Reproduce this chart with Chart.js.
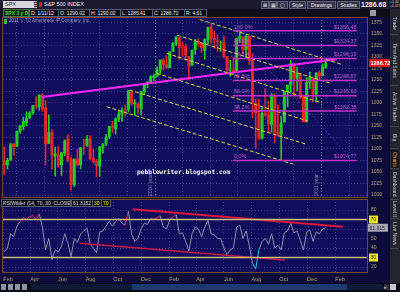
<!DOCTYPE html>
<html>
<head>
<meta charset="utf-8">
<title>SPX 3 y D</title>
<script src="https://cdn.jsdelivr.net/npm/chart.js@4.4.1/dist/chart.umd.min.js"></script>
<style>
  html, body { margin: 0; padding: 0; background: #0b0b1c; }
  #wrap { position: relative; width: 400px; height: 292px; overflow: hidden;
          font-family: "Liberation Sans", Arial, sans-serif; color: #e8e8f0; }
  canvas { position: absolute; left: 0; }
  #priceChart { top: 17px; }
  #rsiChart { top: 199px; }
  .abs { position: absolute; white-space: nowrap; }
  #row1 { left: 0; top: 0; width: 400px; height: 9px; background: #1b1b2d; }
  #row2 { left: 0; top: 9px; width: 400px; height: 8px; background: #0e0e1a; }
  .box { position: absolute; height: 6px; border: 1px solid #5a5a70; font-size: 5px; line-height: 6px;
         padding: 0 1px; color: #f2f2f2; background: #0a0a16; white-space: nowrap; overflow: hidden; }
  .btn { position: absolute; top: 1px; height: 6px; border: 1px solid #60607a; background: #34344a;
         font-size: 5px; line-height: 6px; color: #f0f0f0; text-align: center; }
  .tab { position: absolute; left: 391px; width: 8px; writing-mode: vertical-rl; font-size: 5px;
         line-height: 8px; color: #c4c4d0; text-align: center; border-bottom: 1px solid #44444e; overflow: hidden; }
</style>
</head>
<body>
<div id="wrap">
  <div class="abs" id="row1"></div>
  <div class="abs" id="row2"></div>
  <div class="abs" style="left:0;top:9px;width:10px;height:283px;"></div>

  <canvas id="priceChart" width="390" height="181"></canvas>
  <canvas id="rsiChart" width="390" height="93"></canvas>

  <!-- top bar -->
  <div class="abs" style="left:3px;top:1px;width:29px;height:7px;background:#d6d6de;color:#202030;font-size:5.5px;line-height:7px;padding-left:2px;">SPX</div>
  <div class="abs" style="left:34px;top:1px;width:3px;height:7px;background:repeating-linear-gradient(#b0b0c0 0 1px,#30303c 1px 2px);"></div>
  <div class="abs" style="left:39px;top:2px;width:3px;height:5px;background:#d02020;"></div>
  <div class="abs" style="left:44px;top:1px;font-size:5.5px;line-height:7px;color:#e8e8f4;">S&amp;P 500 INDEX</div>
  <div class="btn" style="left:261px;width:6px;">⊞</div>
  <div class="btn" style="left:269px;width:6px;">▦</div>
  <div class="btn" style="left:277px;width:9px;">▢</div>
  <div class="btn" style="left:289px;width:15px;">Style</div>
  <div class="btn" style="left:307px;width:27px;">Drawings</div>
  <div class="btn" style="left:337px;width:21px;">Studies</div>
  <div class="abs" style="left:361px;top:0;font-size:7px;line-height:9px;font-weight:bold;color:#f4f4f4;">1286.68</div>
  <div class="abs" style="left:390px;top:0;font-size:3.5px;line-height:4px;color:#c8c8d0;">+1.40<br>+0.11%</div>

  <!-- study header -->
  <div class="box" style="left:3px;top:9px;width:22px;color:#34e034;font-weight:bold;border-color:#3e7a3e;background:#0a1e0a;">SPX 3 y D</div>
  <div class="box" style="left:29px;top:9px;width:26px;">D: 1/11/12</div>
  <div class="box" style="left:58px;top:9px;width:28px;">O: 1290.02</div>
  <div class="box" style="left:89px;top:9px;width:28px;">H: 1290.02</div>
  <div class="box" style="left:120px;top:9px;width:29px;">L: 1285.41</div>
  <div class="box" style="left:152px;top:9px;width:29px;">C: 1286.72</div>
  <div class="box" style="left:184px;top:9px;width:19px;">R: 4.61</div>
  <div class="abs" style="left:370px;top:10px;width:6px;height:6px;background:#9a9aa8;"></div>

  <div class="abs" style="left:4px;top:19px;width:3px;height:5px;background:#38b838;"></div>
  <div class="abs" style="left:9px;top:18px;font-size:4.6px;line-height:6px;color:#9c9cbc;">2011 © TD Ameritrade IP Company, Inc.</div>
  <div class="abs" style="left:137px;top:168px;font-family:'DejaVu Sans Mono',monospace;font-weight:bold;font-size:6.2px;line-height:8px;color:#f2f2f2;">pebblewriter.blogspot.com</div>

  <!-- RSI header -->
  <div class="box" style="left:1px;top:199px;width:66px;color:#dcdce6;">RSIWilder (14, 70, 30, CLOSE)</div>
  <div class="box" style="left:71px;top:199px;width:18px;color:#dcdce6;">61.3152</div>
  <div class="box" style="left:92px;top:199px;width:6px;color:#f0f000;">30</div>
  <div class="box" style="left:101px;top:199px;width:6px;color:#f0f000;">70</div>

  <!-- right sidebar -->
  <div class="abs" style="left:390px;top:9px;width:10px;height:274px;background:#24242e;"></div>
  <div class="tab" style="top:12px;height:22px;">Trade</div>
  <div class="tab" style="top:36px;height:49px;">Time And Sales</div>
  <div class="tab" style="top:87px;height:39px;">Active Trader</div>
  <div class="tab" style="top:128px;height:20px;">Big Buttons</div>
  <div class="tab" style="top:150px;height:18px;color:#f0a020;background:#181820;">Charts</div>
  <div class="tab" style="top:170px;height:29px;">Dashboard</div>
  <div class="tab" style="top:201px;height:17px;">Level II</div>
  <div class="tab" style="top:220px;height:28px;">Live News</div>

  <!-- bottom strip -->
  <div class="abs" style="left:0;top:283px;width:400px;height:9px;background:#0a0a14;"></div>
  <div class="abs" style="left:1px;top:284px;width:5px;height:6px;background:#8c94a8;"></div>
  <div class="abs" style="left:8px;top:284px;width:5px;height:6px;background:#8c94a8;"></div>
  <div class="abs" style="left:15px;top:284px;width:5px;height:6px;background:#8c94a8;"></div>
  <div class="abs" style="left:22px;top:284px;width:5px;height:6px;background:#8c94a8;"></div>
  <div class="abs" style="left:31px;top:284px;width:352px;height:6px;background:#0e1a38;"></div>
  <div class="abs" style="left:132px;top:284px;width:215px;height:6px;background:#1c3a70;"></div>
  <div class="abs" style="left:384px;top:284px;width:5px;height:6px;background:#30303c;color:#c0c0c8;font-size:5px;line-height:6px;">▸</div>
  <div class="abs" style="left:390px;top:284px;width:6px;height:6px;background:#c8c8d0;"></div>
</div>

<script>
// SPX weekly bars, weeks starting 2010-02-01
const weekStart = "2010-02-01";
const opens = [1073.9, 1065.5, 1075.9, 1110.0, 1105.4, 1138.4, 1148.5, 1157.3, 1167.7, 1178.7,
  1194.9, 1192.1, 1217.0, 1188.6, 1111.7, 1136.5, 1084.5, 1087.3, 1065.8, 1091.2,
  1122.8, 1077.5, 1022.6, 1077.2, 1066.0, 1102.9, 1107.5, 1122.8, 1079.3, 1073.4,
  1062.9, 1102.6, 1110.8, 1126.6, 1148.6, 1144.0, 1165.3, 1176.8, 1184.7, 1185.7,
  1223.2, 1198.1, 1198.1, 1186.6, 1223.9, 1242.5, 1245.8, 1254.7, 1257.6, 1271.0,
  1293.2, 1283.3, 1276.5, 1311.9, 1328.7, 1340.4, 1321.6, 1322.7, 1301.2, 1281.7,
  1315.5, 1333.6, 1329.0, 1313.4, 1337.1, 1365.2, 1340.2, 1334.8, 1331.1, 1331.1,
  1300.3, 1271.3, 1271.5, 1268.4, 1339.6, 1343.3, 1315.9, 1344.3, 1292.6, 1198.5,
  1178.9, 1123.6, 1177.9, 1173.9, 1153.5, 1214.0, 1136.9, 1131.2, 1158.2, 1224.5,
  1238.7, 1284.9, 1253.2, 1263.9, 1215.6, 1158.7, 1244.3, 1255.1, 1219.7, 1265.0,
  1258.9, 1277.8];
const highs = [1104.7, 1080.0, 1112.4, 1112.3, 1139.0, 1150.6, 1169.2, 1180.7, 1181.4, 1194.7,
  1213.9, 1217.3, 1219.8, 1205.1, 1173.6, 1141.9, 1104.0, 1105.7, 1093.0, 1120.0,
  1131.2, 1082.6, 1078.2, 1099.1, 1103.7, 1120.9, 1128.8, 1129.2, 1100.1, 1077.6,
  1105.1, 1112.4, 1131.5, 1148.9, 1159.7, 1167.7, 1184.4, 1189.4, 1196.1, 1227.1,
  1226.8, 1207.4, 1198.9, 1225.6, 1240.4, 1246.7, 1259.4, 1262.6, 1278.2, 1293.2,
  1296.7, 1302.7, 1311.0, 1330.8, 1344.1, 1342.4, 1332.3, 1327.7, 1301.2, 1315.3,
  1337.9, 1339.5, 1329.0, 1339.5, 1364.6, 1370.6, 1356.0, 1346.8, 1334.6, 1345.2,
  1300.3, 1292.5, 1298.6, 1341.0, 1356.5, 1343.8, 1347.0, 1344.3, 1307.4, 1208.5,
  1208.5, 1190.7, 1230.7, 1204.4, 1220.4, 1220.0, 1195.9, 1171.4, 1224.6, 1239.0,
  1292.7, 1284.9, 1277.6, 1264.3, 1215.6, 1255.1, 1267.1, 1255.1, 1265.4, 1269.4,
  1284.6, 1293.8];
const lows = [1044.5, 1056.5, 1075.5, 1086.0, 1105.4, 1134.0, 1141.5, 1150.4, 1165.0, 1175.1,
  1186.8, 1183.7, 1181.6, 1065.8, 1111.7, 1055.9, 1040.8, 1060.5, 1042.2, 1085.0,
  1071.6, 1010.9, 1018.4, 1063.3, 1056.9, 1088.0, 1105.3, 1076.6, 1069.5, 1039.7,
  1040.9, 1091.1, 1107.2, 1122.3, 1135.7, 1131.9, 1159.2, 1159.7, 1171.7, 1180.1,
  1194.1, 1173.0, 1176.9, 1173.6, 1217.9, 1232.9, 1243.0, 1248.3, 1257.6, 1262.2,
  1271.3, 1275.1, 1276.5, 1311.7, 1324.6, 1294.3, 1302.6, 1292.0, 1249.1, 1281.6,
  1305.3, 1322.9, 1309.7, 1294.7, 1328.5, 1329.2, 1318.5, 1311.8, 1311.8, 1297.9,
  1268.5, 1258.1, 1262.7, 1267.0, 1331.1, 1306.5, 1295.9, 1282.9, 1168.1, 1101.5,
  1120.0, 1121.1, 1170.0, 1136.1, 1136.1, 1114.2, 1127.3, 1074.8, 1158.2, 1191.5,
  1221.1, 1215.4, 1226.6, 1209.0, 1158.7, 1158.7, 1231.5, 1202.4, 1202.4, 1248.6,
  1258.9, 1274.9];
const closes = [1066.2, 1075.5, 1109.2, 1104.5, 1138.7, 1150.0, 1159.9, 1166.6, 1178.1, 1194.4,
  1192.1, 1217.3, 1186.7, 1110.9, 1135.7, 1087.7, 1089.4, 1064.9, 1091.6, 1117.5,
  1076.8, 1022.6, 1078.0, 1064.9, 1102.7, 1101.6, 1121.6, 1079.3, 1071.7, 1064.6,
  1104.5, 1109.6, 1125.6, 1148.7, 1146.2, 1165.2, 1176.2, 1183.1, 1183.3, 1225.9,
  1199.2, 1199.7, 1189.4, 1224.7, 1240.4, 1243.9, 1256.8, 1257.6, 1271.5, 1293.2,
  1283.4, 1276.3, 1310.9, 1329.2, 1343.0, 1319.9, 1321.2, 1304.3, 1279.2, 1313.8,
  1332.4, 1328.2, 1319.7, 1337.4, 1363.6, 1340.2, 1337.8, 1333.3, 1331.1, 1300.2,
  1271.0, 1271.5, 1268.5, 1339.7, 1343.8, 1316.1, 1345.0, 1292.3, 1199.4, 1178.8,
  1123.5, 1176.8, 1174.0, 1154.2, 1216.0, 1136.4, 1131.4, 1155.5, 1224.6, 1238.3,
  1285.1, 1253.2, 1263.9, 1215.7, 1158.7, 1244.3, 1255.2, 1219.7, 1265.3, 1257.6,
  1278.0, 1286.7];
const rsiValues = [36, 40, 55, 52, 63, 68, 72, 70, 73, 74,
  70, 76, 62, 38, 50, 28, 38, 36, 42, 55,
  45, 31, 50, 46, 55, 58, 61, 44, 40, 35,
  57, 58, 63, 68, 63, 68, 71, 66, 64, 79,
  55, 47, 50, 60, 66, 65, 71, 70, 72, 74,
  62, 60, 70, 73, 75, 55, 56, 47, 37, 55,
  62, 60, 52, 62, 69, 55, 54, 50, 50, 40,
  33, 38, 40, 62, 64, 50, 58, 42, 24, 18,
  38, 47, 50, 44, 55, 40, 43, 38, 56, 58,
  66, 56, 58, 48, 38, 57, 59, 47, 57, 55,
  60, 61.3];

const priceTicks = [1000, 1025, 1050, 1075, 1100, 1125, 1150, 1175, 1200, 1225, 1250, 1275, 1300, 1325, 1350, 1375];
const rsiTicks = [20, 30, 40, 50, 60, 70, 80];
const monthTicks = ["2010-02-01", "2010-04-01", "2010-06-01", "2010-08-01", "2010-10-01", "2010-12-01",
  "2011-02-01", "2011-04-01", "2011-06-01", "2011-08-01", "2011-10-01", "2011-12-01", "2012-02-01"];
const monthLabels = ["Feb", "Apr", "Jun", "Aug", "Oct", "Dec", "Feb", "Apr", "Jun", "Aug", "Oct", "Dec", "Feb"];

// Fibonacci retracement drawn Jul-2011 high to Oct-2011 low
const fibLabels = ["100.0%", "88.6%", "78.6%", "61.8%", "50.0%", "38.2%", "0.0%"];
const fibPrices = [1356.48, 1324.37, 1296.19, 1248.87, 1215.63, 1182.38, 1074.77];
const fibSpan = ["2011-06-21", "2012-03-19"];

// hand drawn trend lines: [date, price]
const channelLines = [
  [["2011-04-09", 1381.0], ["2012-02-18", 1282.7]],
  [["2011-02-18", 1347.0], ["2012-01-20", 1243.0]],
  [["2011-01-26", 1307.7], ["2012-01-02", 1200.0]],
  [["2011-01-04", 1264.3], ["2011-12-01", 1161.0]],
  [["2010-11-05", 1228.0], ["2011-11-30", 1110.0]],
  [["2010-09-16", 1191.7], ["2011-10-31", 1067.3]],
];
const risingLine = [["2010-04-27", 1213.0], ["2012-02-04", 1294.7]];
const fanLine = [["2011-09-01", 1280.0], ["2012-02-26", 1091.0]];
const yearBreaks = ["2011-01-01", "2012-01-01"];
const yearLabels = ["2010 year", "2011 year"];

const rsiUpperTrend = [["2010-11-13", 80.7], ["2012-02-18", 62.4]];
const rsiLowerTrend = [["2010-07-19", 45.0], ["2011-10-13", 27.4]];
const rsiOverbought = 70;
const rsiOversold = 30;
const lastClose = 1286.72;
const lastRsi = 61.3152;

// visible window (days since 2010-01-01) and value ranges
const xMin = 30.3, xMax = 830.7;
const priceMin = 993.5, priceMax = 1386.5;
const rsiMin = 13.7, rsiMax = 91.6;

const DAY0 = Date.UTC(2010, 0, 1);
const $ = (id) => document.getElementById(id);

function dayNum(s) {
  const [y, m, d] = s.split("-").map(Number);
  return (Date.UTC(y, m - 1, d) - DAY0) / 86400000;
}

function weekX(i) {
  return dayNum(weekStart) + 7 * i + 2;
}

function seg(pts, color, width, dash) {
  return {
    type: "line",
    data: pts.map(([d, v]) => ({ x: dayNum(d), y: v })),
    borderColor: color,
    borderWidth: width,
    borderDash: dash || [],
    pointRadius: 0,
    fill: false,
    order: 0,
  };
}

const AXIS_BG = "#0c0b3a";
const PANEL_BG = "#100d5c";
const GRID = "#3a3a8c";
const TICK = "#bea274";

function xAxis(showLabels) {
  return {
    type: "linear",
    min: xMin,
    max: xMax,
    offset: false,
    afterBuildTicks: (s) => { s.ticks = monthTicks.map((m) => ({ value: dayNum(m) })); },
    afterFit: (s) => { s.height = showLabels ? 19 : 0; s.paddingLeft = 0; s.paddingRight = 0; },
    grid: { color: GRID, drawTicks: false },
    border: { display: false, dash: [1, 2] },
    ticks: {
      display: showLabels,
      align: "start",
      padding: 3,
      color: TICK,
      font: { size: 5.5 },
      maxRotation: 0,
      autoSkip: false,
      callback: (v, i) => monthLabels[i],
    },
  };
}

function yAxis(min, max, tickList, labelFn) {
  return {
    position: "right",
    min,
    max,
    afterBuildTicks: (s) => { s.ticks = tickList.map((v) => ({ value: v })); },
    afterFit: (s) => { s.width = 23; s.paddingTop = 0; s.paddingBottom = 0; },
    grid: { color: GRID, drawTicks: false },
    border: { display: false, dash: [1, 2] },
    ticks: { padding: 4, color: TICK, font: { size: 5 }, autoSkip: false, callback: labelFn },
  };
}

const panelBg = {
  id: "panelBg",
  beforeDraw(chart) {
    const { ctx, chartArea: a } = chart;
    ctx.save();
    ctx.fillStyle = AXIS_BG;
    ctx.fillRect(0, 0, chart.width, chart.height);
    ctx.fillStyle = PANEL_BG;
    ctx.fillRect(a.left, a.top, a.right - a.left, a.bottom - a.top);
    ctx.restore();
  },
  afterDraw(chart) {
    const { ctx, chartArea: a } = chart;
    ctx.save();
    ctx.strokeStyle = "#6e4a2a";
    ctx.lineWidth = 1;
    ctx.strokeRect(a.left - 0.5, a.top + 0.5, a.right - a.left + 1, a.bottom - a.top - 1);
    ctx.restore();
  },
};

function valueBox(ctx, x, y, w, text, bg, fg) {
  ctx.fillStyle = bg;
  ctx.fillRect(x, y - 4, w, 8);
  ctx.fillStyle = fg;
  ctx.textAlign = "left";
  ctx.textBaseline = "middle";
  ctx.fillText(text, x + 1.5, y + 0.5);
}

const priceExtras = {
  id: "priceExtras",
  afterDatasetsDraw(chart) {
    const { ctx, chartArea: a, scales: { x, y } } = chart;
    ctx.save();

    // fib labels
    ctx.font = '5.5px "Liberation Sans", Arial, sans-serif';
    ctx.fillStyle = "#c55ad8";
    ctx.textBaseline = "bottom";
    const fx0 = x.getPixelForValue(dayNum(fibSpan[0]));
    const fx1 = x.getPixelForValue(dayNum(fibSpan[1]));
    fibPrices.forEach((p, i) => {
      const py = y.getPixelForValue(p);
      ctx.textAlign = "left";
      ctx.fillText(fibLabels[i], fx0 + 1, py - 1);
      ctx.textAlign = "right";
      ctx.fillText("$" + p.toFixed(2), fx1, py - 1);
    });

    // year separators
    ctx.font = '5px "Liberation Sans", Arial, sans-serif';
    yearBreaks.forEach((d, i) => {
      const px = Math.round(x.getPixelForValue(dayNum(d))) + 0.5;
      ctx.strokeStyle = "#7c7690";
      ctx.setLineDash([1, 2]);
      ctx.beginPath();
      ctx.moveTo(px, a.top);
      ctx.lineTo(px, a.bottom);
      ctx.stroke();
      ctx.setLineDash([]);
      ctx.save();
      ctx.translate(px - 2, a.bottom - 2);
      ctx.rotate(-Math.PI / 2);
      ctx.fillStyle = "#8c88a8";
      ctx.textAlign = "left";
      ctx.textBaseline = "bottom";
      ctx.fillText(yearLabels[i], 0, 0);
      ctx.restore();
    });

    // last price marker on the axis
    ctx.font = 'bold 5.5px "Liberation Sans", Arial, sans-serif';
    valueBox(ctx, a.right + 2, y.getPixelForValue(lastClose), 21, lastClose.toFixed(2), "#e01414", "#ffffff");
    ctx.restore();
  },
};

const rsiExtras = {
  id: "rsiExtras",
  afterDatasetsDraw(chart) {
    const { ctx, chartArea: a, scales: { y } } = chart;
    ctx.save();
    ctx.font = '5px "Liberation Sans", Arial, sans-serif';
    valueBox(ctx, a.right + 2, y.getPixelForValue(rsiOverbought), 9, String(rsiOverbought), "#eaea10", "#202000");
    valueBox(ctx, a.right + 2, y.getPixelForValue(rsiOversold), 9, String(rsiOversold), "#eaea10", "#202000");
    valueBox(ctx, a.right + 1, y.getPixelForValue(lastRsi), 20, lastRsi.toFixed(3), "#a4a4b0", "#2a2a36");
    ctx.restore();
  },
};

function buildPriceChart() {
  const up = closes.map((c, i) => c >= opens[i]);
  const colors = up.map((u) => (u ? "#22cc22" : "#e62626"));
  const datasets = [
    {
      type: "bar",
      data: lows.map((l, i) => ({ x: weekX(i), y: [l, highs[i]] })),
      backgroundColor: colors,
      barThickness: 1,
      grouped: false,
      order: 10,
    },
    {
      type: "bar",
      data: opens.map((o, i) => ({ x: weekX(i), y: [o, closes[i]] })),
      backgroundColor: colors,
      barThickness: 2.4,
      grouped: false,
      order: 9,
    },
  ];
  fibPrices.forEach((p) => datasets.push(seg([[fibSpan[0], p], [fibSpan[1], p]], "#c430c4", 1.5)));
  channelLines.forEach((l) => datasets.push(seg(l, "#d8d040", 1, [4, 2])));
  datasets.push(seg(fanLine, "#3a3ab0", 1, [2, 2]));
  datasets.push(seg(risingLine, "#ff26ff", 2));

  new Chart($("priceChart"), {
    type: "bar",
    data: { datasets },
    options: {
      responsive: false,
      animation: false,
      devicePixelRatio: 1,
      layout: { padding: { left: 3, top: 0, right: 0, bottom: 0 } },
      plugins: { legend: { display: false }, tooltip: { enabled: false } },
      scales: {
        x: xAxis(false),
        y: yAxis(priceMin, priceMax, priceTicks, (v) => String(v)),
      },
    },
    plugins: [panelBg, priceExtras],
  });
}

function buildRsiChart() {
  const hidden = [rsiOverbought, rsiOversold, 60];
  new Chart($("rsiChart"), {
    type: "line",
    data: {
      datasets: [
        seg([["2010-01-31", rsiOverbought], ["2012-04-10", rsiOverbought]], "#c8c07a", 1.5),
        seg([["2010-01-31", rsiOversold], ["2012-04-10", rsiOversold]], "#c8c07a", 1.5),
        {
          data: rsiValues.map((v, i) => ({ x: weekX(i), y: v })),
          borderColor: "#8c8ca6",
          borderWidth: 1,
          pointRadius: 0,
          order: 1,
          segment: {
            borderColor: (c) => {
              const m = (c.p0.parsed.y + c.p1.parsed.y) / 2;
              if (m > 69) return "#e83048";
              if (m < 31) return "#22c4e4";
              return "#8c8ca6";
            },
          },
        },
        seg(rsiUpperTrend, "#d8183c", 2),
        seg(rsiLowerTrend, "#c81848", 1.5),
      ],
    },
    options: {
      responsive: false,
      animation: false,
      devicePixelRatio: 1,
      layout: { padding: { left: 3, top: 0, right: 0, bottom: 0 } },
      plugins: { legend: { display: false }, tooltip: { enabled: false } },
      scales: {
        x: xAxis(true),
        y: yAxis(rsiMin, rsiMax, rsiTicks, (v) => (hidden.includes(v) ? "" : String(v))),
      },
    },
    plugins: [panelBg, rsiExtras],
  });
}

function boot() {
  Chart.defaults.font.family = '"Liberation Sans", Arial, sans-serif';
  buildPriceChart();
  buildRsiChart();
}

document.addEventListener("DOMContentLoaded", boot);
</script>
</body>
</html>
